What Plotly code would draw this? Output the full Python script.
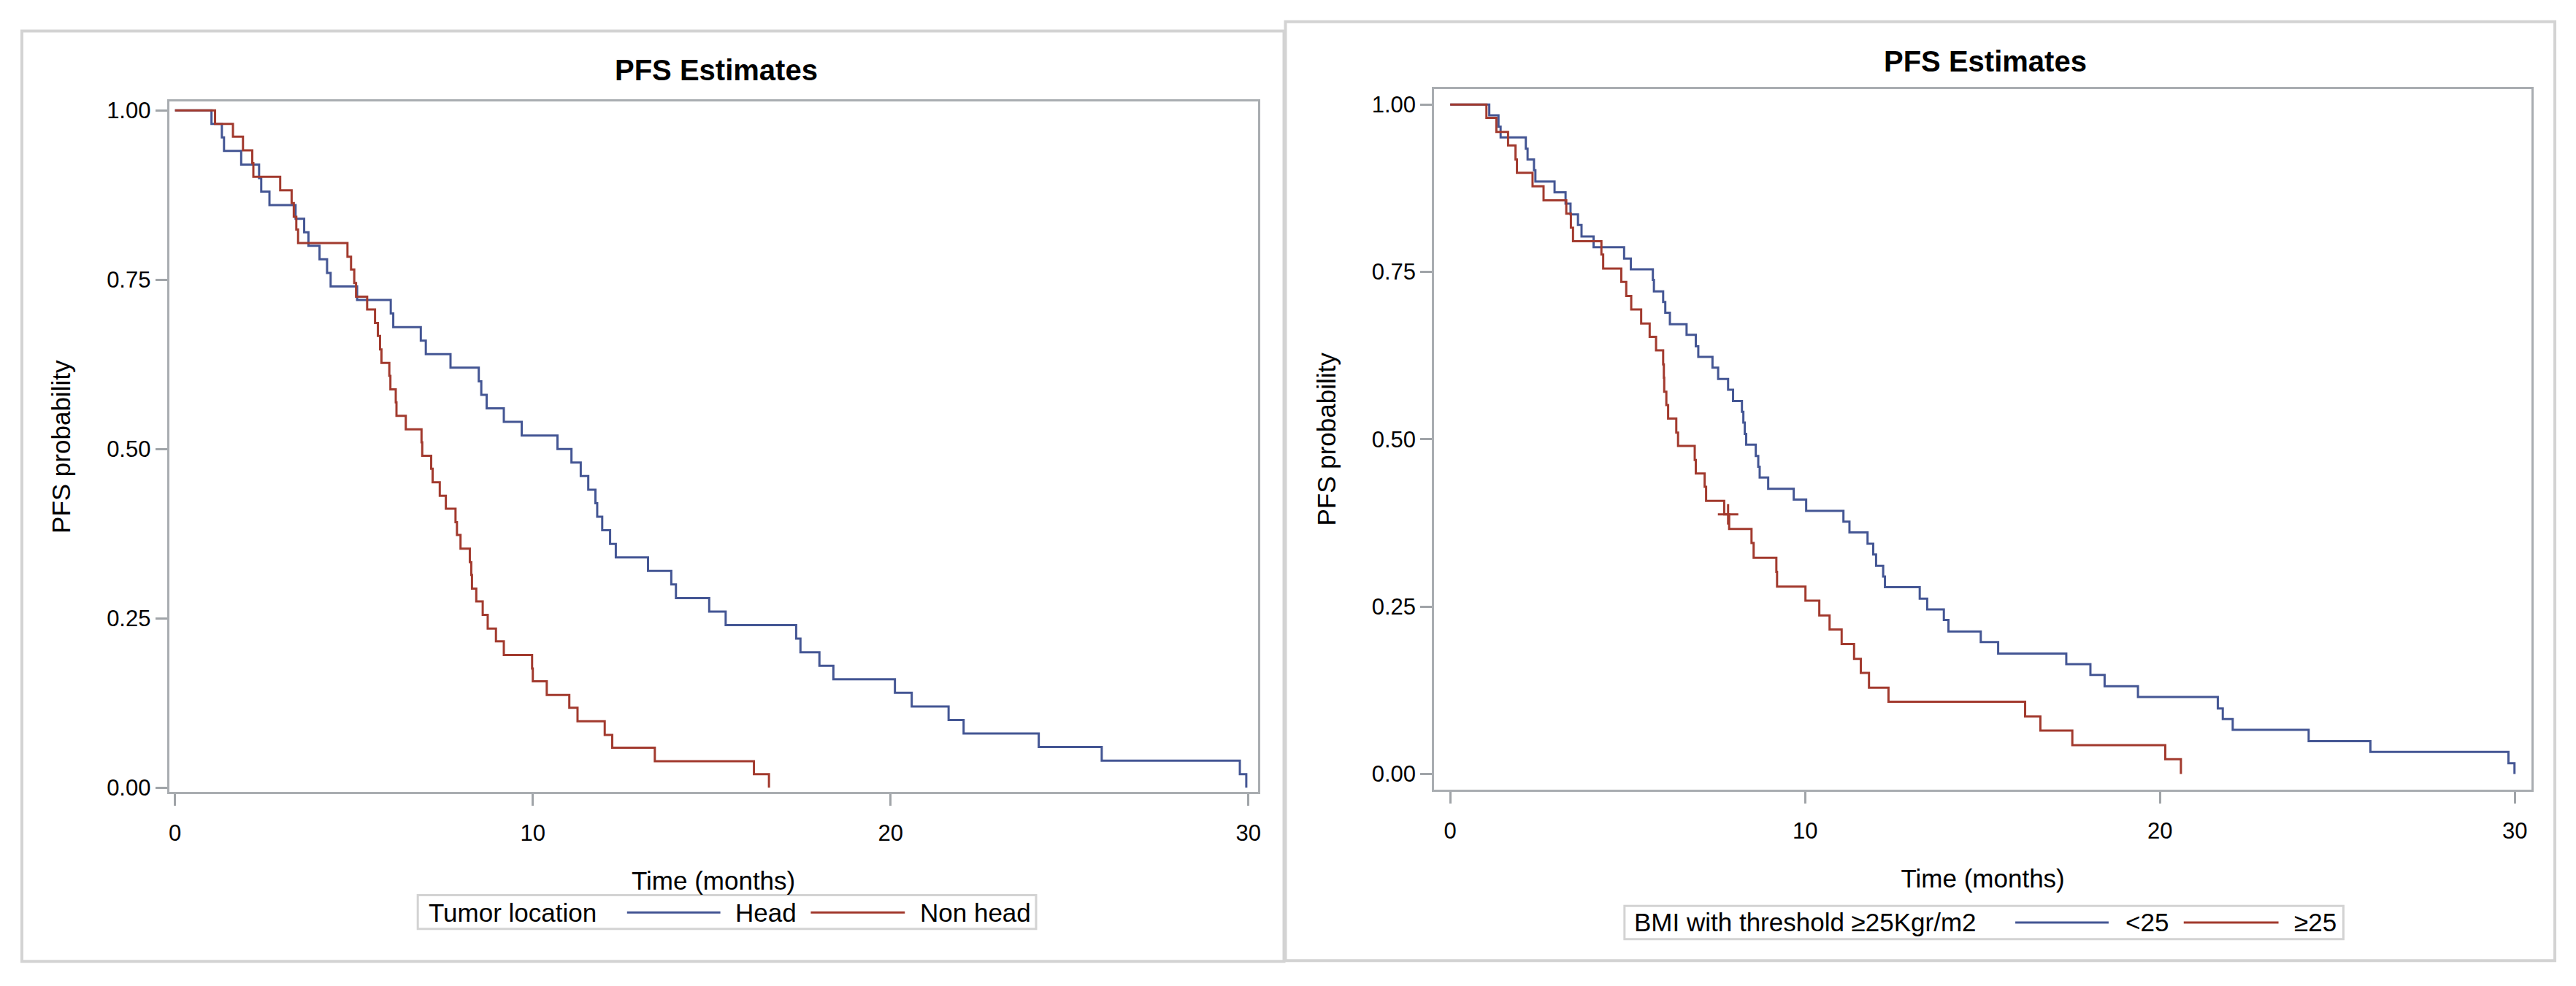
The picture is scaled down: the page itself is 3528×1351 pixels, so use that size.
import plotly.graph_objects as go

W, H = 3528, 1351

# ---------------- data ----------------
# Left panel: Tumor location
head_t = [1.02, 1.31, 1.37, 1.85, 2.35, 2.41, 2.64, 3.37, 3.61, 3.73,
          4.04, 4.25, 4.35, 5.09, 6.03, 6.10, 6.87, 7.01, 7.70, 8.49,
          8.56, 8.71, 9.19, 9.69, 10.69, 11.08, 11.34, 11.55, 11.75, 11.80,
          11.94, 12.16, 12.32, 13.22, 13.87, 14.00, 14.93, 15.39, 17.36, 17.48,
          18.01, 18.40, 20.12, 20.59, 21.62, 22.04, 24.14, 25.90, 29.76, 29.94]
head_s = [0.98, 0.96, 0.94, 0.92, 0.90, 0.88, 0.86, 0.84, 0.82, 0.80,
          0.78, 0.76, 0.74, 0.72, 0.70, 0.68, 0.66, 0.64, 0.62, 0.60,
          0.58, 0.56, 0.54, 0.52, 0.50, 0.48, 0.46, 0.44, 0.42, 0.40,
          0.38, 0.36, 0.34, 0.32, 0.30, 0.28, 0.26, 0.24, 0.22, 0.20,
          0.18, 0.16, 0.14, 0.12, 0.10, 0.08, 0.06, 0.04, 0.02, 0.00]

nonhead_t = [1.12, 1.62, 1.90, 2.16, 2.19, 2.94, 3.26, 3.32, 3.39, 3.44,
             4.82, 4.92, 5.01, 5.06, 5.37, 5.59, 5.67, 5.73, 5.77, 5.99,
             6.02, 6.17, 6.19, 6.45, 6.89, 6.91, 7.16, 7.20, 7.40, 7.57,
             7.84, 7.88, 7.98, 8.24, 8.28, 8.30, 8.42, 8.60, 8.74, 8.97,
             9.19, 9.98, 10.00, 10.39, 11.02, 11.25, 12.01, 12.22, 13.41, 16.18,
             16.60]
nonhead_s = [0.980, 0.961, 0.941, 0.922, 0.902, 0.882, 0.863, 0.843, 0.824, 0.804,
             0.784, 0.765, 0.745, 0.725, 0.706, 0.686, 0.667, 0.647, 0.627, 0.608,
             0.588, 0.569, 0.549, 0.529, 0.510, 0.490, 0.471, 0.451, 0.431, 0.412,
             0.392, 0.373, 0.353, 0.333, 0.314, 0.294, 0.275, 0.255, 0.235, 0.216,
             0.196, 0.176, 0.157, 0.137, 0.118, 0.098, 0.078, 0.059, 0.039, 0.020,
             0.000]

# Right panel: BMI with threshold >=25 Kgr/m2
bmi_lt25_t = [1.10, 1.36, 1.42, 2.13, 2.18, 2.36, 2.40, 2.94, 3.25, 3.39,
              3.60, 3.70, 4.04, 4.90, 5.09, 5.71, 5.74, 6.00, 6.06, 6.19,
              6.66, 6.92, 6.99, 7.39, 7.55, 7.83, 7.97, 8.22, 8.26, 8.30,
              8.34, 8.61, 8.68, 8.72, 8.96, 9.68, 10.03, 11.08, 11.25, 11.76,
              11.92, 12.00, 12.20, 12.25, 13.23, 13.44, 13.91, 14.04, 14.95, 15.44,
              17.36, 18.04, 18.44, 19.38, 21.63, 21.77, 22.05, 24.19, 25.93, 29.82,
              29.99]
bmi_lt25_s = [0.984, 0.967, 0.951, 0.934, 0.918, 0.902, 0.885, 0.869, 0.852, 0.836,
              0.820, 0.803, 0.787, 0.770, 0.754, 0.738, 0.721, 0.705, 0.689, 0.672,
              0.656, 0.639, 0.623, 0.607, 0.590, 0.574, 0.557, 0.541, 0.525, 0.508,
              0.492, 0.475, 0.459, 0.443, 0.426, 0.410, 0.393, 0.377, 0.361, 0.344,
              0.328, 0.311, 0.295, 0.279, 0.262, 0.246, 0.230, 0.213, 0.197, 0.180,
              0.164, 0.148, 0.131, 0.115, 0.098, 0.082, 0.066, 0.049, 0.033, 0.016,
              0.000]

bmi_ge25_t = [1.02, 1.30, 1.63, 1.84, 1.88, 2.32, 2.63, 3.27, 3.40, 3.46,
              4.26, 4.31, 4.82, 4.96, 5.10, 5.38, 5.62, 5.80, 6.00, 6.02,
              6.03, 6.09, 6.14, 6.37, 6.42, 6.89, 6.92, 7.17, 7.21, 7.72,
              7.86, 8.49, 8.55, 9.19, 9.21, 10.01, 10.40, 10.69, 11.03, 11.38,
              11.57, 11.80, 12.35, 16.20, 16.63, 17.53, 20.15, 20.59]
bmi_ge25_s = [0.980, 0.959, 0.939, 0.918, 0.898, 0.878, 0.857, 0.837, 0.816, 0.796,
              0.776, 0.755, 0.735, 0.714, 0.694, 0.673, 0.653, 0.633, 0.612, 0.592,
              0.571, 0.551, 0.531, 0.510, 0.490, 0.469, 0.449, 0.429, 0.408, 0.388,
              0.366, 0.345, 0.323, 0.302, 0.280, 0.259, 0.237, 0.216, 0.194, 0.172,
              0.151, 0.129, 0.108, 0.086, 0.065, 0.043, 0.022, 0.000]
bmi_ge25_censor_t = [7.83]
bmi_ge25_censor_s = [0.388]

start_t = [0.0]
start_s = [1.0]

x_ticks = [0, 10, 20, 30]
x_ticklabels = ["0", "10", "20", "30"]
y_ticks = [0.0, 0.25, 0.5, 0.75, 1.0]
y_ticklabels = ["0.00", "0.25", "0.50", "0.75", "1.00"]

left_title = "PFS Estimates"
right_title = "PFS Estimates"
x_title = "Time (months)"
y_title = "PFS probability"
left_legend_title = "Tumor location"
left_names = ["Head", "Non head"]
right_legend_title = "BMI with threshold \u226525Kgr/m2"
right_names = ["<25", "\u226525"]

# ---------------- style ----------------
BLUE = "#445694"
RED = "#A23A2E"
FRAME = "#A9ADB1"
TICKC = "#A0A4A8"
BORDER = "#D3D3D3"
FONT = "Liberation Sans, Arial, sans-serif"
LW = 3


def px(x):
    return x / W


def py(y):
    return 1 - y / H


fig = go.Figure()


def km(x, y, color, xa, ya, name):
    fig.add_trace(go.Scatter(
        x=start_t + x, y=start_s + y, mode="lines", name=name,
        line=dict(color=color, width=LW, shape="hv"),
        xaxis=xa, yaxis=ya, showlegend=False, hoverinfo="x+y+name"))


km(head_t, head_s, BLUE, "x", "y", left_names[0])
km(nonhead_t, nonhead_s, RED, "x", "y", left_names[1])
km(bmi_lt25_t, bmi_lt25_s, BLUE, "x2", "y2", right_names[0])
km(bmi_ge25_t, bmi_ge25_s, RED, "x2", "y2", right_names[1])
fig.add_trace(go.Scatter(
    x=bmi_ge25_censor_t, y=bmi_ge25_censor_s, mode="markers", name="Censored",
    marker=dict(symbol="cross-thin", size=20, color=RED, line=dict(color=RED, width=3)),
    xaxis="x2", yaxis="y2", showlegend=False))

axis_common = dict(
    showgrid=False, zeroline=False, showline=True, mirror=True,
    linecolor=FRAME, linewidth=3,
    ticks="outside", ticklen=16, tickwidth=3, tickcolor=TICKC,
    tickfont=dict(family=FONT, size=31, color="#000000"),
    fixedrange=True,
)

xcommon = dict(axis_common, tickvals=x_ticks, ticktext=x_ticklabels, ticklabelstandoff=11,
               title=dict(text=x_title, font=dict(family=FONT, size=35, color="#000000"), standoff=37))
ycommon = dict(axis_common, tickvals=y_ticks, ticktext=y_ticklabels,
               title=dict(text=y_title, font=dict(family=FONT, size=35, color="#000000"), standoff=39))

fig.update_layout(
    width=W, height=H,
    margin=dict(l=0, r=0, t=0, b=0, pad=0),
    paper_bgcolor="white", plot_bgcolor="white",
    font=dict(family=FONT, color="#000000"),
    showlegend=False,
    xaxis=dict(xcommon, domain=[px(231), px(1724)], range=[-0.163, 30.26], anchor="y"),
    yaxis=dict(ycommon, domain=[py(1094), py(136)], range=[-0.0064, 1.0128], anchor="x"),
    xaxis2=dict(xcommon, domain=[px(1966), px(3471)], range=[-0.452, 30.47], anchor="y2"),
    yaxis2=dict(ycommon, domain=[py(1091), py(118)], range=[-0.0237, 1.0237], anchor="x2"),
)

shapes = []
annotations = []

# outer panel borders
shapes.append(dict(type="rect", xref="paper", yref="paper",
                   x0=px(29), x1=px(1760), y0=py(1329), y1=py(38),
                   line=dict(color=BORDER, width=4), layer="below"))
shapes.append(dict(type="rect", xref="paper", yref="paper",
                   x0=px(1762), x1=px(3503), y0=py(1328), y1=py(25),
                   line=dict(color=BORDER, width=4), layer="below"))

# titles
annotations.append(dict(text="<b>%s</b>" % left_title, x=px(981), y=py(92), xref="paper", yref="paper",
                        xanchor="center", yanchor="middle", showarrow=False,
                        font=dict(family=FONT, size=40, color="#000000")))
annotations.append(dict(text="<b>%s</b>" % right_title, x=px(2722), y=py(80), xref="paper", yref="paper",
                        xanchor="center", yanchor="middle", showarrow=False,
                        font=dict(family=FONT, size=40, color="#000000")))


def legend_box(x0, x1, y0, y1, yc, title, title_x, items):
    shapes.append(dict(type="rect", xref="paper", yref="paper",
                       x0=px(x0), x1=px(x1), y0=py(y1), y1=py(y0),
                       line=dict(color=BORDER, width=3), fillcolor="white", layer="below"))
    annotations.append(dict(text=title, x=px(title_x), y=py(yc), xref="paper", yref="paper",
                            xanchor="left", yanchor="middle", showarrow=False,
                            font=dict(family=FONT, size=35, color="#000000")))
    for (lx0, lx1, tx, label, color) in items:
        shapes.append(dict(type="line", xref="paper", yref="paper",
                           x0=px(lx0), x1=px(lx1), y0=py(yc), y1=py(yc),
                           line=dict(color=color, width=LW)))
        annotations.append(dict(text=label, x=px(tx), y=py(yc), xref="paper", yref="paper",
                                xanchor="left", yanchor="middle", showarrow=False,
                                font=dict(family=FONT, size=35, color="#000000")))


legend_box(572, 1420, 1237, 1284, 1261, left_legend_title, 585,
           [(859, 987, 1005, left_names[0], BLUE), (1111, 1240, 1259, left_names[1], RED)])
legend_box(2227, 3213, 1252, 1298, 1275, right_legend_title, 2238,
           [(2763, 2891, 2912, right_names[0], BLUE), (2994, 3124, 3143, right_names[1], RED)])

fig.update_layout(shapes=shapes, annotations=annotations)

fig.write_html("out.html", config={"displayModeBar": False},
               post_script="document.body.style.margin='0';document.body.style.overflow='hidden';")
